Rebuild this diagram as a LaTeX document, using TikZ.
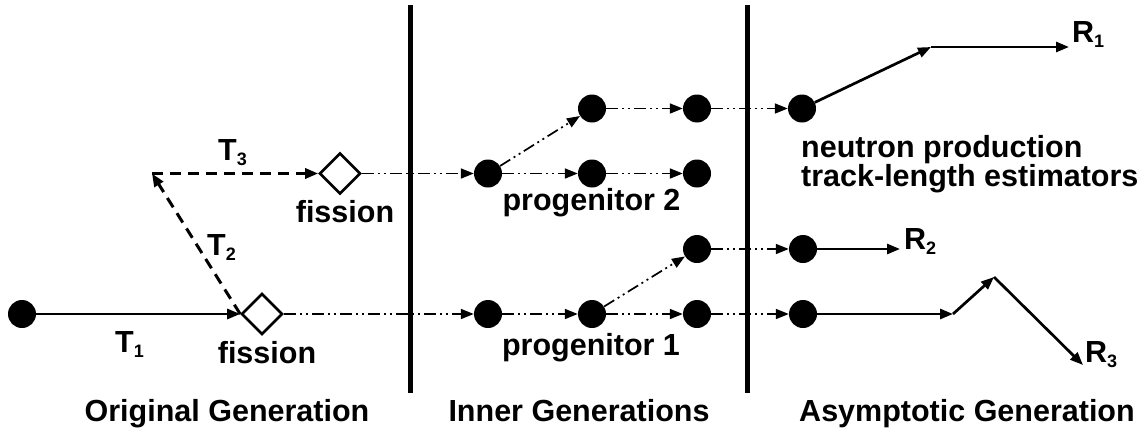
\documentclass[tikz,border=0pt]{standalone}
\usepackage{fontspec}
\setmainfont{Liberation Sans}
\usetikzlibrary{arrows.meta,shapes.geometric}
\newcommand\sbs[1]{\raisebox{-5pt}{\fontsize{18}{18}\selectfont #1}}
\tikzset{
  lbl/.style={font=\bfseries\fontsize{30.5}{31}\selectfont, inner sep=0pt},
  dot/.style={circle, fill=black, draw=none, minimum size=28pt, inner sep=0pt},
  fis/.style={diamond, draw=black, line width=2.6pt, fill=white, minimum width=41pt, minimum height=41pt, inner sep=0pt, aspect=1},
  tip/.style={-{Triangle[length=13pt,width=10pt]}},
  solidtr/.style={tip, line width=2.7pt},
  dashtr/.style={tip, line width=3pt, dash pattern=on 11pt off 7pt},
  gentr/.style={tip, line width=1.7pt, dash pattern=on 12pt off 4pt on 2pt off 4pt on 2pt off 4pt},
  wall/.style={line width=5pt},
}
\begin{document}
\begin{tikzpicture}[x=1pt,y=-1pt]
\useasboundingbox (0,0) rectangle (1145,439);
% walls
\coordinate (w1t) at (410,5);
\coordinate (w1b) at (410,393);
\coordinate (w2t) at (747,5);
\coordinate (w2b) at (747,393);
\draw[wall] (w1t) -- (w1b);
\draw[wall] (w2t) -- (w2b);
% original generation
\node[dot] (s0) at (22,314) {};
\node[fis] (dia1) at (262,314) {};
\node[fis] (dia2) at (340,173.5) {};
\coordinate (c1) at (152,173.5);
\draw[solidtr] (s0) -- (dia1.west);
\draw[dashtr] (dia1.west) -- (c1);
\draw[dashtr] (c1) -- (dia2.west);
\node[lbl, anchor=base west] (t1) at (115,352) {T\sbs{1}};
\node[lbl, anchor=base west] (t2) at (207,255) {T\sbs{2}};
\node[lbl, anchor=base west] (t3) at (218,160) {T\sbs{3}};
\node[lbl, anchor=base] (f1) at (267,363) {fission};
\node[lbl, anchor=base] (f2) at (345,222) {fission};
% inner generations
\node[dot] (A) at (488,173.5) {};
\node[dot] (B) at (592,108.5) {};
\node[dot] (C) at (592,173.5) {};
\node[dot] (D) at (697,108.5) {};
\node[dot] (E) at (697,173.5) {};
\node[dot] (F) at (802,108.5) {};
\node[dot] (G) at (488,314) {};
\node[dot] (H) at (592,314) {};
\node[dot] (I) at (697,249) {};
\node[dot] (J) at (697,314) {};
\node[dot] (K) at (803,249) {};
\node[dot] (L) at (803,314) {};
\draw[gentr] (dia2.east) -- (A);
\draw[gentr] (dia1.east) -- (G);
\draw[gentr] (A) -- (B);
\draw[gentr] (A) -- (C);
\draw[gentr] (B) -- (D);
\draw[gentr] (C) -- (E);
\draw[gentr] (D) -- (F);
\draw[gentr] (G) -- (H);
\draw[gentr] (H) -- (I);
\draw[gentr] (H) -- (J);
\draw[gentr] (I) -- (K);
\draw[gentr] (J) -- (L);
\node[lbl, anchor=base] (p2) at (591.5,210) {progenitor 2};
\node[lbl, anchor=base] (p1) at (591,355) {progenitor 1};
% asymptotic generation
\coordinate (r1a) at (931,47);
\coordinate (r1b) at (1069,47);
\coordinate (r2a) at (900,249);
\coordinate (r3a) at (953,314);
\coordinate (r3b) at (994,277);
\coordinate (r3c) at (1083,365);
\draw[solidtr] (F) -- (r1a);
\draw[solidtr] (r1a) -- (r1b);
\draw[solidtr] (K) -- (r2a);
\draw[solidtr] (L) -- (r3a);
\draw[solidtr] (r3a) -- (r3b);
\draw[solidtr] (r3b) -- (r3c);
\node[lbl, anchor=base west] (R1) at (1072,42) {R\sbs{1}};
\node[lbl, anchor=base west] (R2) at (904,249) {R\sbs{2}};
\node[lbl, anchor=base west] (R3) at (1085,362) {R\sbs{3}};
\node[lbl, anchor=base west] (np1) at (801,157) {neutron production};
\node[lbl, anchor=base west] (np2) at (801,186) {track-length estimators};
% generation titles
\node[lbl, anchor=base] (g1) at (227,421) {Original Generation};
\node[lbl, anchor=base] (g2) at (579,421) {Inner Generations};
\node[lbl, anchor=base] (g3) at (967,421) {Asymptotic Generation};
\end{tikzpicture}
\end{document}
